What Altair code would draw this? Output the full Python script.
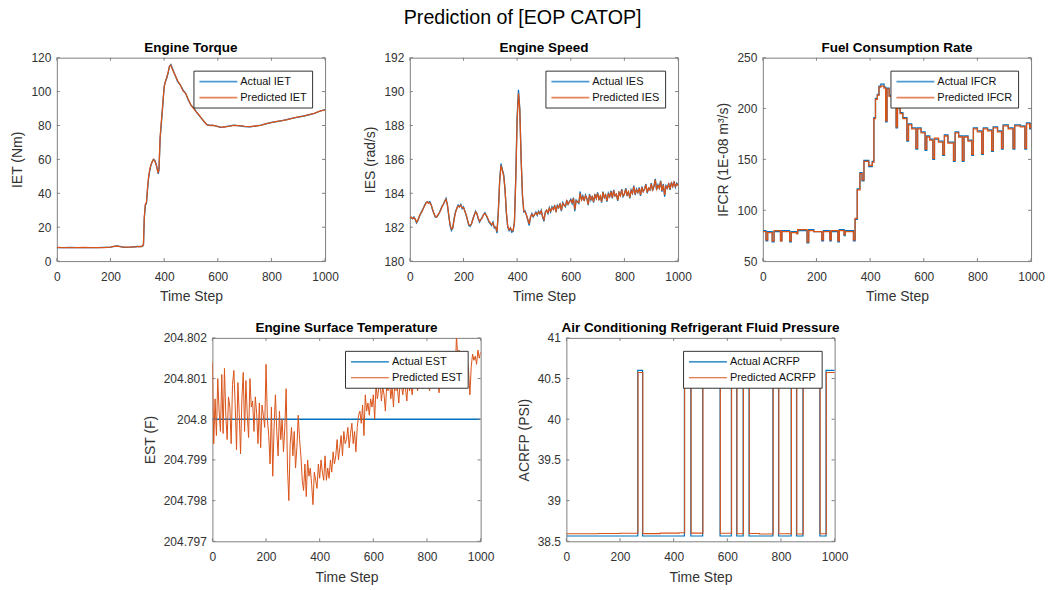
import altair as alt
import pandas as pd

FONT = "Liberation Sans"
BLUE = "#0072BD"
ORANGE = "#D95319"
FRAME = "#7f7f7f"
TEXT = "#333333"
W, H = 269, 204

time_ticks = [0, 200, 400, 600, 800, 1000]
steps_5 = list(range(0, 1001, 5))

# ---- Engine torque (IET, Nm) ----
iet_steps = [0, 25, 50, 75, 100, 125, 150, 175, 200, 210, 225, 240, 250, 275, 300,
             315, 320, 323, 326, 330, 334, 338, 342, 346, 350, 355, 360, 365, 370, 375,
             378, 381, 385, 390, 395, 400, 405, 410, 415, 420, 425, 430, 440, 450, 460,
             470, 480, 490, 500, 510, 520, 530, 540, 550, 560, 570, 580, 590, 600, 610,
             620, 640, 660, 680, 700, 720, 740, 760, 780, 800, 820, 840, 860, 880, 900,
             920, 940, 960, 980, 1000]
iet_actual = [8.0, 8.0, 8.1, 7.9, 8.0, 8.0, 7.9, 8.1, 8.2, 8.6, 8.9, 8.5, 8.1, 8.3, 8.6,
              8.5, 8.9, 9.5, 25.0, 33.0, 34.0, 42.0, 49.0, 53.0, 56.0, 58.5, 60.0, 59.5, 57.5, 54.0,
              51.5, 54.0, 72.0, 82.0, 92.0, 103.0, 106.0, 108.0, 111.0, 115.0, 116.0, 114.0, 110.0, 106.0, 104.0,
              101.0, 99.0, 95.0, 92.0, 90.5, 88.0, 86.0, 84.0, 82.0, 80.5, 80.0, 80.2, 79.8, 79.5, 78.9,
              79.0, 79.6, 80.2, 79.8, 79.4, 79.2, 79.6, 80.2, 81.0, 81.8, 82.3, 82.8, 83.6, 84.3, 85.0,
              85.6, 86.3, 87.2, 88.4, 89.3]
iet_predicted = [8.1, 8.0, 8.0, 8.0, 8.1, 7.9, 8.0, 8.0, 8.3, 8.7, 8.8, 8.4, 8.2, 8.3, 8.5,
                 8.6, 9.0, 10.0, 26.0, 33.5, 34.5, 43.0, 49.5, 53.5, 56.5, 58.5, 60.0, 59.0, 57.0, 53.5,
                 52.0, 55.0, 73.0, 83.0, 92.5, 102.5, 106.0, 108.5, 111.5, 115.0, 115.5, 113.5, 110.0, 106.5, 104.0,
                 100.5, 99.0, 95.5, 92.0, 90.0, 88.0, 86.2, 84.0, 82.2, 80.3, 80.1, 80.0, 79.9, 79.3, 79.0,
                 79.1, 79.5, 80.1, 79.9, 79.5, 79.3, 79.7, 80.1, 81.1, 81.7, 82.4, 82.9, 83.5, 84.4, 85.1,
                 85.5, 86.4, 87.1, 88.5, 89.2]

# ---- Engine speed (IES, rad/s), every 5 time steps ----
ies_actual = [
    182.6, 182.55, 182.5, 182.6, 182.45, 182.25, 182.4, 182.6, 182.8, 182.95,
    183.1, 183.3, 183.45, 183.5, 183.45, 183.5, 183.3, 183.0, 182.8, 182.6,
    182.6, 182.7, 182.85, 183.05, 183.25, 183.35, 183.55, 183.7, 183.3, 182.7,
    182.1, 181.8, 181.95, 182.5, 182.9, 183.1, 183.3, 183.2, 183.35, 183.1,
    183.2, 182.95, 182.7, 182.4, 182.1, 182.05, 182.2, 182.5, 182.7, 182.95,
    182.8, 182.5, 182.3, 182.45, 182.6, 182.75, 182.85, 182.7, 182.5, 182.3,
    182.2, 182.1, 182.3, 181.95, 182.0, 181.65, 183.0, 184.8, 185.75, 185.4,
    185.1, 184.2, 182.8, 182.0, 181.8, 181.95, 181.7, 181.75, 182.3, 185.0,
    188.5, 190.1, 189.0, 186.0, 183.8, 182.9, 182.95, 182.7, 182.4, 182.1,
    182.6, 182.8, 182.6, 182.75, 182.9, 182.7, 182.95, 182.8, 183.0, 182.6,
    182.35, 182.9, 183.0, 182.8, 183.15, 182.9, 183.2, 183.05, 183.3, 182.9,
    183.3, 183.15, 183.4, 182.95, 183.45, 183.3, 183.2, 183.6, 183.35, 183.5,
    183.65, 183.4, 183.75, 182.95, 183.6, 183.5, 183.4, 184.1, 183.6, 183.85,
    183.55, 183.9, 183.7, 183.3, 183.95, 183.6, 183.85, 183.45, 183.95, 183.7,
    184.05, 183.6, 183.85, 183.45, 184.1, 183.75, 183.9, 183.5, 184.0, 183.8,
    184.15, 183.7, 184.2, 183.85, 183.95, 183.55, 184.1, 183.85, 184.25, 183.8,
    183.95, 184.3, 183.85, 184.1, 183.7, 184.2, 184.0, 184.45, 183.9, 184.25,
    184.05, 184.35, 183.85, 184.4, 184.1, 184.25, 184.55, 184.0, 184.3, 184.2,
    184.6, 184.15, 184.4, 184.85, 184.2, 184.5, 184.3, 184.75, 184.1, 184.55,
    183.8, 184.45, 184.3, 184.6, 184.2, 184.65, 184.4, 184.7, 184.35, 184.6,
    184.5]
ies_predicted = [
    182.55, 182.6, 182.5, 182.55, 182.5, 182.3, 182.4, 182.65, 182.8, 182.9,
    183.1, 183.25, 183.4, 183.5, 183.4, 183.45, 183.3, 183.05, 182.8, 182.65,
    182.6, 182.75, 182.85, 183.0, 183.2, 183.35, 183.5, 183.65, 183.35, 182.75,
    182.15, 181.9, 181.95, 182.45, 182.85, 183.1, 183.25, 183.2, 183.3, 183.15,
    183.15, 182.95, 182.75, 182.45, 182.15, 182.1, 182.2, 182.45, 182.7, 182.9,
    182.8, 182.55, 182.35, 182.45, 182.55, 182.75, 182.8, 182.7, 182.55, 182.35,
    182.25, 182.15, 182.25, 182.0, 182.0, 181.75, 182.9, 184.7, 185.65, 185.35,
    185.0, 184.2, 182.9, 182.05, 181.85, 181.95, 181.8, 181.8, 182.3, 184.8,
    188.3, 189.9, 188.9, 186.0, 183.9, 182.95, 182.9, 182.7, 182.45, 182.2,
    182.6, 182.75, 182.65, 182.75, 182.85, 182.75, 182.9, 182.8, 182.95, 182.65,
    182.45, 182.85, 183.0, 182.85, 183.1, 182.95, 183.15, 183.05, 183.25, 182.95,
    183.25, 183.15, 183.35, 183.0, 183.4, 183.3, 183.25, 183.55, 183.35, 183.5,
    183.6, 183.45, 183.7, 183.05, 183.55, 183.5, 183.45, 184.0, 183.6, 183.8,
    183.6, 183.85, 183.7, 183.35, 183.9, 183.65, 183.8, 183.5, 183.9, 183.7,
    184.0, 183.65, 183.85, 183.5, 184.05, 183.75, 183.9, 183.55, 183.95, 183.8,
    184.1, 183.75, 184.15, 183.85, 183.95, 183.6, 184.05, 183.85, 184.2, 183.85,
    183.95, 184.25, 183.9, 184.1, 183.75, 184.15, 184.0, 184.4, 183.95, 184.2,
    184.05, 184.3, 183.9, 184.35, 184.1, 184.25, 184.5, 184.05, 184.3, 184.2,
    184.55, 184.2, 184.4, 184.8, 184.25, 184.45, 184.3, 184.7, 184.15, 184.5,
    183.9, 184.4, 184.3, 184.55, 184.25, 184.6, 184.4, 184.65, 184.4, 184.55,
    184.45]

# ---- Fuel consumption rate (IFCR, 1E-08 m^3/s): level changes ----
ifcr_steps = [0, 12, 18, 35, 42, 66, 71, 100, 106, 126, 130, 165, 171, 190, 220,
              226, 250, 255, 280, 285, 303, 307, 338, 344, 352, 362, 370, 377, 395, 408,
              414, 420, 427, 433, 440, 452, 458, 463, 471, 480, 489, 497, 502, 512, 522,
              537, 543, 555, 571, 577, 590, 605, 611, 622, 634, 640, 655, 671, 677, 690,
              711, 717, 730, 744, 750, 765, 779, 785, 800, 816, 822, 838, 853, 859, 875,
              890, 896, 915, 933, 939, 960, 977, 983, 995, 1000]
ifcr_actual = [80, 70, 79, 69, 79, 70, 80, 69, 79, 77, 80, 68, 81, 79, 70,
               80, 70, 79, 69, 81, 75, 80, 70, 91, 121, 137, 129, 149, 143, 148,
               191, 210, 214, 222, 224, 221, 187, 220, 213, 210, 205, 181, 201, 196, 191,
               168, 185, 181, 160, 181, 177, 159, 173, 170, 150, 170, 168, 154, 174, 167,
               148, 177, 173, 148, 173, 169, 154, 181, 178, 155, 181, 179, 158, 182, 178,
               160, 184, 181, 160, 184, 183, 160, 186, 180, 186]
ifcr_predicted = [79, 71, 78, 70, 80, 70, 79, 70, 78, 77, 81, 69, 80, 79, 71,
                  79, 71, 80, 70, 80, 76, 79, 71, 92, 120, 136, 130, 148, 144, 147,
                  190, 209, 213, 221, 222, 220, 188, 219, 212, 209, 204, 182, 200, 195, 190,
                  169, 184, 180, 161, 180, 176, 160, 172, 169, 151, 171, 167, 155, 173, 166,
                  149, 176, 172, 149, 172, 168, 155, 180, 177, 156, 180, 178, 159, 181, 177,
                  161, 183, 180, 161, 183, 182, 161, 185, 181, 185]

# ---- Engine surface temperature (EST, F) ----
est_actual_steps = [0, 1000]
est_actual = [204.8, 204.8]
est_predicted = [
    204.80140, 204.79940, 204.80050, 204.79960, 204.80100, 204.80020, 204.79970, 204.80110, 204.79965, 204.80125,
    204.80010, 204.79950, 204.80055, 204.80030, 204.79940, 204.80085, 204.80120, 204.80035, 204.79925, 204.80090,
    204.80015, 204.79915, 204.80050, 204.80115, 204.79970, 204.80095, 204.80010, 204.79955, 204.80100, 204.80030,
    204.80045, 204.79970, 204.80055, 204.80015, 204.79940, 204.80040, 204.79930, 204.80035, 204.80010, 204.79980,
    204.80135, 204.80000, 204.79960, 204.79890, 204.80030, 204.79860, 204.79980, 204.80060, 204.79970, 204.79910,
    204.80020, 204.79950, 204.80000, 204.79920, 204.79980, 204.80075, 204.79880, 204.79800, 204.79940, 204.79980,
    204.79910, 204.79970, 204.79880, 204.79930, 204.80010, 204.79950, 204.79910, 204.79850, 204.79825, 204.79890,
    204.79810, 204.79900, 204.79860, 204.79880, 204.79840, 204.79790, 204.79870, 204.79850, 204.79830, 204.79890,
    204.79855, 204.79900, 204.79870, 204.79850, 204.79910, 204.79850, 204.79880, 204.79855, 204.79900, 204.79870,
    204.79920, 204.79890, 204.79910, 204.79950, 204.79900, 204.79930, 204.79960, 204.79910, 204.79970, 204.79940,
    204.79950, 204.79980, 204.79930, 204.79965, 204.79990, 204.79940, 204.79970, 204.79920, 204.79980, 204.80010,
    204.80020, 204.79990, 204.80035, 204.79960, 204.80060, 204.80020, 204.80040, 204.80010, 204.80050, 204.80030,
    204.80060, 204.80000, 204.80085, 204.80050, 204.80075, 204.80095, 204.80045, 204.80080, 204.80060, 204.80020,
    204.80085, 204.80070, 204.80100, 204.80050, 204.80080, 204.80030, 204.80090, 204.80070, 204.80075, 204.80040,
    204.80095, 204.80080, 204.80060, 204.80090, 204.80075, 204.80045, 204.80100, 204.80070, 204.80085, 204.80060,
    204.80095, 204.80080, 204.80100, 204.80070, 204.80090, 204.80085, 204.80105, 204.80075, 204.80095, 204.80080,
    204.80100, 204.80085, 204.80070, 204.80105, 204.80090, 204.80080, 204.80110, 204.80085, 204.80095, 204.80065,
    204.80100, 204.80090, 204.80110, 204.80080, 204.80105, 204.80090, 204.80120, 204.80095, 204.80085, 204.80110,
    204.80130, 204.80105, 204.80205, 204.80150, 204.80170, 204.80130, 204.80155, 204.80140, 204.80160, 204.80135,
    204.80150, 204.80120, 204.80060, 204.80130, 204.80160, 204.80145, 204.80155, 204.80135, 204.80170, 204.80150,
    204.80165]

# ---- A/C refrigerant fluid pressure (ACRFP, PSI): level changes ----
acrfp_actual_steps = [0, 266, 284, 440, 464, 508, 573, 615, 635, 659, 681, 770, 791, 838, 858, 882, 945, 968, 1000]
acrfp_actual = [38.565, 40.60, 38.565, 40.60, 38.565, 40.60, 38.565, 40.60, 38.565, 40.60,
                38.565, 40.60, 38.565, 40.60, 38.565, 40.60, 38.565, 40.60, 40.60]
acrfp_predicted_steps = [0, 120, 200, 267, 285, 350, 420, 441, 465, 509, 574, 616, 636, 660,
                         682, 720, 771, 792, 839, 859, 883, 946, 969, 1000]
acrfp_predicted = [38.592, 38.595, 38.598, 40.575, 38.594, 38.600, 38.605, 40.575, 38.600, 40.575,
                   38.598, 40.575, 38.592, 40.575, 38.596, 38.590, 40.575, 38.592, 40.575, 38.590,
                   40.575, 38.592, 40.575, 40.570]


def series_frame(steps, values, name):
    return pd.DataFrame({"step": steps, "value": values, "series": name})


def panel(title, ylabel, names, actual, predicted, y_domain, y_ticks, y_format,
          interp="linear", actual_width=1.3, predicted_width=1.3,
          legend_width=1.8, legend_opacity=0.7):
    x_scale = alt.Scale(domain=[0, 1000], nice=False, zero=False)
    y_scale = alt.Scale(domain=y_domain, nice=False, zero=False)
    x_axis = alt.Axis(title="Time Step", values=time_ticks, format="d",
                      labelFlush=False, labelPadding=10, titlePadding=8)
    y_axis = alt.Axis(title=ylabel, values=y_ticks, format=y_format,
                      labelPadding=6, titlePadding=6)
    color = alt.Color(
        "series:N",
        scale=alt.Scale(domain=names, range=[BLUE, ORANGE]),
        legend=alt.Legend(
            title=None, orient="top-right", offset=13,
            # short nominal symbol with a long drawn stroke keeps the rows compact
            symbolType="M-1,0H6.6", symbolSize=100, symbolStrokeWidth=legend_width,
            symbolOpacity=legend_opacity,
            labelFont=FONT, labelFontSize=11, labelColor="#111111", labelOffset=30,
            labelLimit=300, padding=5, rowPadding=5,
            strokeColor="#333333", fillColor="white", cornerRadius=0,
        ),
    )

    def line(df, width):
        return alt.Chart(df).mark_line(
            interpolate=interp, strokeWidth=width, clip=True
        ).encode(
            x=alt.X("step:Q", scale=x_scale, axis=x_axis),
            y=alt.Y("value:Q", scale=y_scale, axis=y_axis),
            color=color,
        )

    # inward tick marks on all four sides of the box
    xt = pd.DataFrame({"step": time_ticks})
    yt = pd.DataFrame({"value": y_ticks})
    tx = alt.X("step:Q", scale=x_scale, axis=x_axis)
    ty = alt.Y("value:Q", scale=y_scale, axis=y_axis)
    tick_bottom = alt.Chart(xt).mark_rule(color=FRAME).encode(x=tx, y=alt.value(H), y2=alt.value(H - 3))
    tick_top = alt.Chart(xt).mark_rule(color=FRAME).encode(x=tx, y=alt.value(0), y2=alt.value(3))
    tick_left = alt.Chart(yt).mark_rule(color=FRAME).encode(y=ty, x=alt.value(0), x2=alt.value(3))
    tick_right = alt.Chart(yt).mark_rule(color=FRAME).encode(y=ty, x=alt.value(W), x2=alt.value(W - 3))

    return alt.layer(
        line(actual, actual_width), line(predicted, predicted_width),
        tick_bottom, tick_top, tick_left, tick_right,
    ).properties(
        width=W, height=H,
        title=alt.TitleParams(title, font=FONT, fontSize=13.5, fontWeight="bold",
                              color="#000000", offset=-3),
    )


p_torque = panel(
    "Engine Torque", "IET (Nm)", ["Actual IET", "Predicted IET"],
    series_frame(iet_steps, iet_actual, "Actual IET"),
    series_frame(iet_steps, iet_predicted, "Predicted IET"),
    [0, 120], [0, 20, 40, 60, 80, 100, 120], "d",
)
p_speed = panel(
    "Engine Speed", "IES (rad/s)", ["Actual IES", "Predicted IES"],
    series_frame(steps_5, ies_actual, "Actual IES"),
    series_frame(steps_5, ies_predicted, "Predicted IES"),
    [180, 192], [180, 182, 184, 186, 188, 190, 192], "d",
)
p_fuel = panel(
    "Fuel Consumption Rate", "IFCR (1E-08 m³/s)", ["Actual IFCR", "Predicted IFCR"],
    series_frame(ifcr_steps, ifcr_actual, "Actual IFCR"),
    series_frame(ifcr_steps, ifcr_predicted, "Predicted IFCR"),
    [50, 250], [50, 100, 150, 200, 250], "d", interp="step-after",
)
p_temp = panel(
    "Engine Surface Temperature", "EST (F)", ["Actual EST", "Predicted EST"],
    series_frame(est_actual_steps, est_actual, "Actual EST"),
    series_frame(steps_5, est_predicted, "Predicted EST"),
    [204.797, 204.802], [204.797, 204.798, 204.799, 204.8, 204.801, 204.802], ".3~f",
    actual_width=1.7, predicted_width=1.0, legend_width=1.2, legend_opacity=1,
)
p_pressure = panel(
    "Air Conditioning Refrigerant Fluid Pressure", "ACRFP (PSI)", ["Actual ACRFP", "Predicted ACRFP"],
    series_frame(acrfp_actual_steps, acrfp_actual, "Actual ACRFP"),
    series_frame(acrfp_predicted_steps, acrfp_predicted, "Predicted ACRFP"),
    [38.5, 41], [38.5, 39, 39.5, 40, 40.5, 41], ".1~f", interp="step-after",
    actual_width=1.2, predicted_width=1.1, legend_width=1.2, legend_opacity=1,
)

# empty cell that centres the second row under the first
spacer = alt.Chart(pd.DataFrame({"gap": [0]})).mark_point(opacity=0).encode(
    x=alt.X("gap:Q", axis=None), y=alt.Y("gap:Q", axis=None)
).properties(width=70, height=H, view=alt.ViewBackground(strokeOpacity=0))

row1 = alt.hconcat(p_torque, p_speed, p_fuel, spacing=85, bounds="flush").resolve_scale(color="independent")
row2 = alt.hconcat(spacer, p_temp, p_pressure, spacing=86, bounds="flush").resolve_scale(color="independent")

chart = alt.vconcat(
    row1, row2, spacing=16,
    title=alt.TitleParams("Prediction of [EOP CATOP]", font=FONT, fontSize=19.7,
                          fontWeight="normal", color="#000000", anchor="middle",
                          offset=13.5, dx=-5),
).resolve_scale(color="independent").properties(
    padding={"left": 10, "top": 6, "right": 5, "bottom": 5}
).configure(font=FONT).configure_view(
    stroke=FRAME, strokeWidth=1
).configure_axis(
    grid=False, domain=False, ticks=False, tickSize=0,
    labelFont=FONT, labelFontSize=12, labelColor=TEXT,
    titleFont=FONT, titleFontSize=14, titleFontWeight="normal", titleColor=TEXT,
)

chart.save("out.html", embed_options={"renderer": "svg", "actions": False})
